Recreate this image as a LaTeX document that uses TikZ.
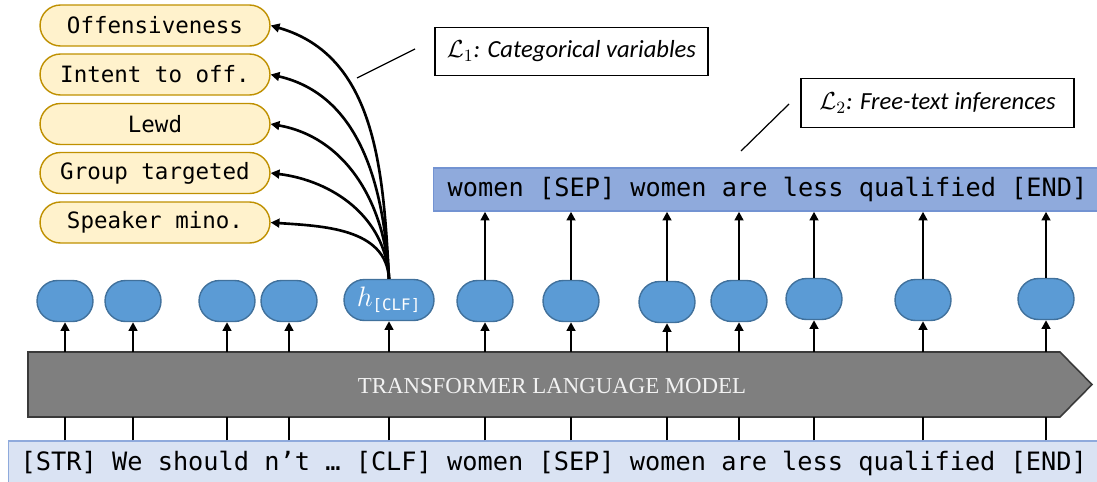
\documentclass[tikz,border=0pt]{standalone}
\usepackage{fix-cm}
\usepackage{fontspec}
\setmainfont{Liberation Serif}
\setmonofont{DejaVu Sans Mono}
\newfontfamily\calib{Carlito}
\usetikzlibrary{shapes.misc,arrows.meta}
\definecolor{tagfill}{HTML}{FFF2CC}
\definecolor{tagline}{HTML}{BF9000}
\definecolor{hidfill}{HTML}{5B9BD5}
\definecolor{hidline}{HTML}{41719C}
\definecolor{outfill}{HTML}{8FAADC}
\definecolor{outline}{HTML}{7393D2}
\definecolor{inpfill}{HTML}{DAE3F3}
\definecolor{inpline}{HTML}{8FAADC}
\definecolor{tlmfill}{HTML}{7F7F7F}
\definecolor{tlmline}{HTML}{3A3A3A}
\begin{document}
\begin{tikzpicture}[x = 0.02cm, y = -0.02cm,
    tag/.style = {rounded rectangle, draw = tagline, fill = tagfill, line width = 0.8pt, minimum width = 4.6cm, minimum height = 0.82cm, inner sep = 0pt, font = \fontsize{12.8}{15}\selectfont\ttfamily},
    hid/.style = {rounded rectangle, draw = hidline, fill = hidfill, line width = 0.8pt, minimum width = 1.12cm, minimum height = 0.82cm, inner sep = 0pt},
    loss/.style = {draw, line width = 0.7pt, minimum width = 5.46cm, minimum height = 0.97cm, font = \calib\itshape\fontsize{14}{17}\selectfont},
    up/.style = {-{Triangle[length = 5pt, width = 5pt]}, line width = 1.5pt},
    curv/.style = {-{Triangle[length = 5pt, width = 5pt]}, line width = 1.5pt},
    seq/.style = {font = \fontsize{14.4}{17}\selectfont\ttfamily, anchor = west, line width = 0.8pt}]
    \useasboundingbox (0,0) rectangle (1097,481);
    \clip (0,0) rectangle (1097,481);
    % transformer body
    \coordinate (tlmtop) at (0,352);
    \coordinate (tlmbot) at (0,417);
    \draw[fill = tlmfill, draw = tlmline, line width = 0.9pt] (28,352) -- (1060,352) -- (1092,384.5) -- (1060,417) -- (28,417) -- cycle;
    \node[text = white!95!black, font = \fontsize{13}{15}\selectfont] (tlm) at (552,386) {TRANSFORMER LANGUAGE MODEL};
    % input and generated sequences
    \node[seq, draw = inpline, fill = inpfill, inner xsep = 0.24cm, minimum height = 0.88cm] (inp) at (8,463) {\makebox[24cm][l]{[STR] We should n’t … [CLF] women [SEP] women are less qualified [END]}};
    \node[seq, draw = outline, fill = outfill, inner xsep = 0.28cm, minimum height = 0.86cm] (out) at (433,189.5) {\makebox[14cm][l]{women [SEP] women are less qualified [END]}};
    % hidden states
    \foreach \n/\x/\y in {t1/65/301, t2/133/301, t3/227/301, t4/289/301, t6/485/301, t7/571/301, t8/667/302, t9/739/301, t10/814/299, t11/923/300, t12/1046/299}
        \node[hid] (\n) at (\x,\y) {};
    \node[hid, minimum width = 1.8cm, text = white, font = \fontsize{16}{18}\selectfont] (clf) at (389,300) {$h_{\hbox{\fontsize{9}{10}\selectfont\ttfamily[CLF]}}$};
    \foreach \n in {t1,t2,t3,t4,clf,t6,t7,t8,t9,t10,t11,t12} {
        \draw[line width = 1.5pt] (\n |- inp.north) -- (\n |- tlmbot);
        \draw[up] (\n |- tlmtop) -- (\n.south);
    }
    \foreach \n in {t6,t7,t8,t9,t10,t11,t12}
        \draw[up] (\n.north) -- (\n |- out.south);
    % categorical variables
    \node[tag] (off) at (155,25.5) {Offensiveness};
    \node[tag] (int) at (155,74.5) {Intent to off.};
    \node[tag] (lewd) at (155,124) {Lewd};
    \node[tag] (grp) at (155,173) {Group targeted};
    \node[tag] (spk) at (155,222.5) {Speaker mino.};
    \foreach \n/\a in {off/-16, int/-13, lewd/-10, grp/-7, spk/-4}
        \draw[curv] (clf.north) to[out = 93, in = \a] (\n.east);
    % losses
    \node[loss] (l1) at (571.5,51.5) {$\mathcal{L}_1$: Categorical variables};
    \node[loss] (l2) at (937.5,103) {$\mathcal{L}_2$: Free-text inferences};
    \coordinate (l1a) at (357,78);
    \coordinate (l1b) at (415,49);
    \coordinate (l2a) at (741,151);
    \coordinate (l2b) at (789,104);
    \draw[line width = 0.7pt] (l1a) -- (l1b);
    \draw[line width = 0.7pt] (l2a) -- (l2b);
\end{tikzpicture}
\end{document}
